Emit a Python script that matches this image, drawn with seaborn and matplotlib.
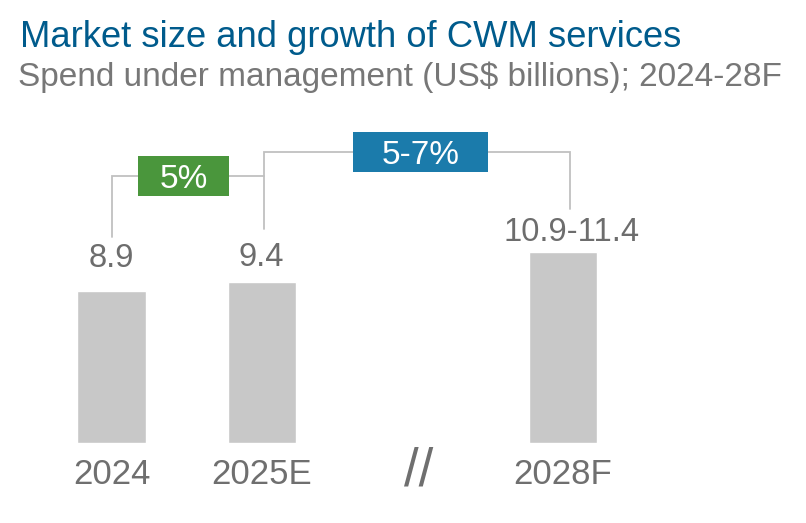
import matplotlib
matplotlib.use("Agg")
import matplotlib.pyplot as plt
from matplotlib.patches import Rectangle
import seaborn as sns
import pandas as pd

# chart data
years = ["2024", "2025E", "2028F"]
spend = [8.9, 9.4, 11.15]          # 2028F drawn at the middle of the range
spend_labels = ["8.9", "9.4", "10.9-11.4"]
growth_labels = ["5%", "5-7%"]
break_label = "//"

title = "Market size and growth of CWM services"
subtitle = "Spend under management (US$ billions); 2024-28F"

sns.set_theme(style="white")
plt.rcParams["font.family"] = ["Liberation Sans", "DejaVu Sans"]

W, H = 806, 523
fig = plt.figure(figsize=(W / 100, H / 100), dpi=100)
ax = fig.add_axes([0, 80 / H, 1, 443 / H])

order = ["2024", "2025E", break_label, "2028F"]
df = pd.DataFrame({"year": years, "spend": spend})
sns.barplot(data=df, x="year", y="spend", order=order, color="#c8c8c8",
            saturation=1, width=0.452, ax=ax)

# pixel scale: 150.5 px per category, 17.13 px per billion
px_x, px_y = 150.5, 17.13
ax.set_xlim(-111.5 / px_x, (W - 111.5) / px_x)
ax.set_ylim(0, 443 / px_y)
sns.despine(ax=ax, left=True, bottom=True)
ax.set_xlabel("")
ax.set_ylabel("")
ax.set_yticks([])
pos = [order.index(y) for y in years]
ax.set_xticks(pos, years)
ax.tick_params(axis="x", length=0, pad=10.5, labelsize=25, labelcolor="#6f6f6f")

# value labels (offsets in px)
lab_dx = [0, -1, 9]
lab_dy = [24, 16, 11]
for p, v, lab, dx, dy in zip(pos, spend, spend_labels, lab_dx, lab_dy):
    ax.annotate(lab, (p, v), xytext=(dx * 0.72, dy * 0.72), textcoords="offset points",
                ha="center", va="baseline", fontsize=23.5, color="#6d6d6d")

# axis break mark
ax.annotate(break_label, (order.index(break_label), 0), xytext=(6 * 0.72, -42 * 0.72),
            textcoords="offset points", ha="center", va="baseline", fontsize=38,
            color="#6f6f6f", annotation_clip=False)

# growth brackets
line_kw = dict(color="#c0c0c0", lw=1.3, zorder=2, solid_joinstyle="miter")
ax.plot([0, 0, 1.013], [12.03, 15.59, 15.59], **line_kw)
ax.plot([1.013, 1.013, 3.047, 3.047], [12.49, 17.0, 17.0, 13.66], **line_kw)

box_colors = ["#4a963c", "#1b7bab"]
box_cx = [0.478, 2.053]
box_cy = [15.59, 17.0]
box_w = [0.605, 0.897]
box_h = 2.335
for lab, c, cx, cy, bw in zip(growth_labels, box_colors, box_cx, box_cy, box_w):
    ax.add_patch(Rectangle((cx - bw / 2, cy - box_h / 2), bw, box_h,
                           facecolor=c, edgecolor="none", zorder=3))
    ax.text(cx, cy, lab, ha="center", va="center_baseline", fontsize=24,
            color="white", zorder=4)

fig.text(19.5 / W, 1 - 47 / H, title, fontsize=26.2, color="#005b8c", va="baseline")
fig.text(18.5 / W, 1 - 86 / H, subtitle, fontsize=24, color="#777777", va="baseline")

fig.savefig("out.png", dpi=100)
